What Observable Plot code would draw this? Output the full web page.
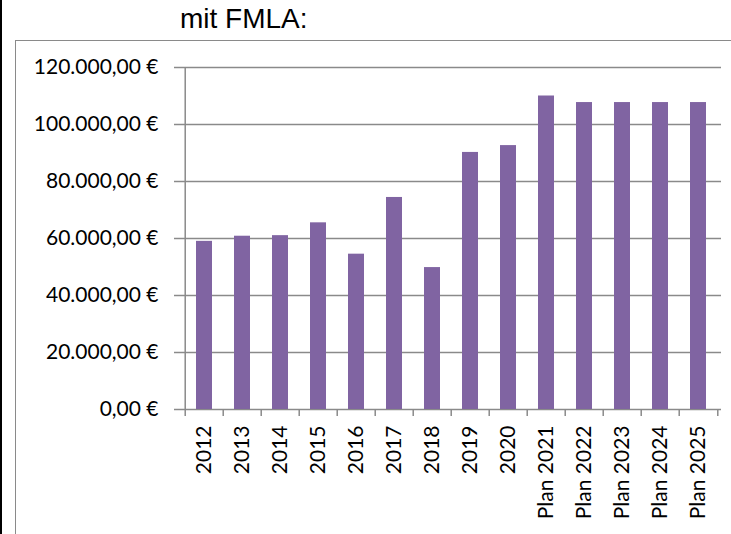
<!DOCTYPE html>
<html>
<head>
<meta charset="utf-8">
<script src="https://cdn.jsdelivr.net/npm/d3@7"></script>
<script src="https://cdn.jsdelivr.net/npm/@observablehq/plot@0.6"></script>
<style>
  html, body { margin: 0; padding: 0; background: #fff; }
  #wrap { position: relative; width: 731px; height: 534px; overflow: hidden; background: #fff; }
  #leftline { position: absolute; left: 0; top: 0; width: 2px; height: 534px; background: #000; }
  #frame { position: absolute; left: 15px; top: 40px; width: 800px; height: 600px; border: 1.5px solid #8a8a8a; box-sizing: border-box; }
  #title { position: absolute; left: 180px; top: 5px; font-family: "Liberation Sans", Arial, sans-serif; font-size: 28px; color: #000; white-space: nowrap; line-height: 1; }
  #chart { position: absolute; left: 0; top: 0; }
</style>
</head>
<body>
<div id="wrap">
  <div id="leftline"></div>
  <div id="frame"></div>
  <div id="title">mit FMLA:</div>
  <div id="chart"></div>
</div>
<script>
const categories = ["2012","2013","2014","2015","2016","2017","2018","2019","2020","Plan 2021","Plan 2022","Plan 2023","Plan 2024","Plan 2025"];
const values = [59000, 60800, 61000, 65500, 54500, 74400, 49800, 90200, 92600, 110000, 107700, 107700, 107700, 107700];
const yTicks = [0, 20000, 40000, 60000, 80000, 100000, 120000];

const data = categories.map((c, i) => ({category: c, value: values[i]}));

const locale = d3.formatLocale({decimal: ",", thousands: ".", grouping: [3], currency: ["", " €"]});
const fmt = locale.format("$,.2f");

const W = 731, H = 534, mL = 181, mR = 10, mT = 67, mB = 125;
const step = (W - mL - mR) / categories.length;
const pad = 0.585;

const gridColor = "#8a8a8a";
const font = "Lato, 'Noto Sans', sans-serif";

const plot = Plot.plot({
  width: W,
  height: H,
  marginLeft: mL,
  marginRight: mR,
  marginTop: mT,
  marginBottom: mB,
  style: {fontFamily: font, fontSize: "21px", color: "#000", background: "transparent", overflow: "visible"},
  x: {domain: categories, paddingInner: pad, paddingOuter: pad / 2, align: 0.5, label: null},
  y: {domain: [0, 120000], label: null},
  marks: [
    Plot.ruleY(yTicks, {stroke: gridColor, strokeWidth: 1.5}),
    Plot.ruleX([categories[0]], {x: d => d, y1: 0, y2: 120000, dx: -step / 2, stroke: gridColor, strokeWidth: 1.5}),
    Plot.barY(data, {x: "category", y: "value", fill: "#8064A2"}),
    // small ticks hanging below the baseline at category boundaries
    Plot.ruleX(categories, {x: d => d, y1: 0, y2: 0, insetTop: 0, insetBottom: -7, dx: -step / 2, stroke: gridColor, strokeWidth: 1.5}),
    Plot.ruleX([categories[categories.length - 1]], {x: d => d, y1: 0, y2: 0, insetTop: 0, insetBottom: -7, dx: step / 2, stroke: gridColor, strokeWidth: 1.5}),
    Plot.axisY(yTicks, {tickFormat: fmt, tickSize: 7, tickPadding: 16, stroke: gridColor, strokeWidth: 1.5, strokeOpacity: 1, fontSize: 21, fontFamily: font, fill: "#000"}),
    Plot.axisX({tickSize: 0, tickPadding: 16, tickRotate: -90, fontSize: 21, fontFamily: font, fill: "#000"})
  ]
});

document.getElementById("chart").appendChild(plot);
</script>
</body>
</html>
